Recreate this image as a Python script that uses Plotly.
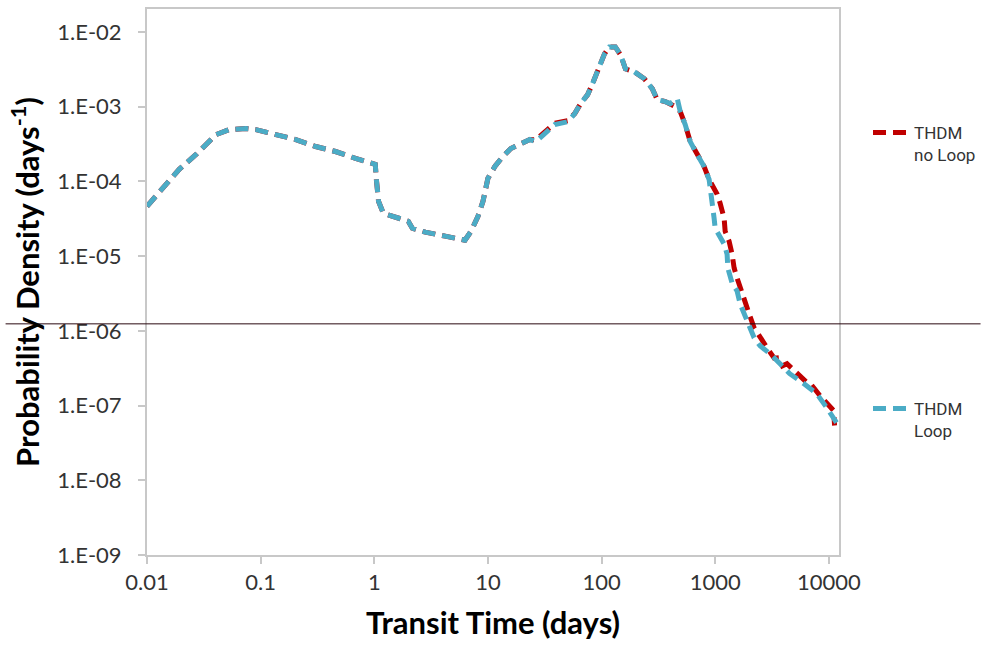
import plotly.graph_objects as go

# ---- data ----
loop_x = [0.01, 0.0136, 0.0192, 0.0270, 0.0405, 0.0526, 0.0741, 0.0908, 0.125, 0.204,
          0.305, 0.456, 0.683, 1.02, 1.04, 1.09, 1.20, 1.63, 1.99, 2.16,
          2.81, 4.20, 5.25, 6.28, 7.10, 8.17, 9.04, 10.0, 11.5, 13.5,
          15.9, 19.5, 23.4, 26.4, 31.6, 38.7, 50.4, 58.0, 65.4, 75.4,
          83.2, 95.9, 106, 117, 132, 147, 162, 194, 238, 279,
          309, 363, 402, 463, 492, 544, 602, 693, 798, 883,
          939, 977, 998, 1081, 1197, 1271, 1290, 1406, 1556, 1656,
          1795, 1986, 2197, 2479, 3034, 3715, 4518, 5998, 7797, 9550,
          11000, 11670]
loop_y = [4.64e-5, 8.07e-5, 1.45e-4, 2.29e-4, 4.23e-4, 4.93e-4, 5.09e-4, 4.93e-4, 4.36e-4, 3.63e-4,
          2.93e-4, 2.51e-4, 2.03e-4, 1.69e-4, 1.10e-4, 5.41e-5, 3.74e-5, 3.21e-5, 2.93e-5, 2.36e-5,
          2.09e-5, 1.85e-5, 1.69e-5, 1.63e-5, 2.15e-5, 3.41e-5, 5.41e-5, 1.10e-4, 1.58e-4, 2.15e-4,
          2.75e-4, 3.21e-4, 3.63e-4, 3.41e-4, 4.36e-4, 5.75e-4, 6.31e-4, 8.07e-4, 1.10e-3, 1.45e-3,
          2.03e-3, 3.63e-3, 5.09e-3, 6.31e-3, 6.31e-3, 4.93e-3, 3.21e-3, 2.93e-3, 2.36e-3, 1.74e-3,
          1.24e-3, 1.17e-3, 1.10e-3, 1.28e-3, 8.58e-4, 5.75e-4, 3.41e-4, 2.29e-4, 1.58e-4, 1.06e-4,
          5.75e-5, 3.21e-5, 2.36e-5, 1.96e-5, 1.45e-5, 1.06e-5, 6.92e-6, 4.36e-6, 3.41e-6, 2.29e-6,
          1.69e-6, 1.17e-6, 8.07e-7, 6.31e-7, 4.93e-7, 3.63e-7, 2.67e-7, 1.97e-7, 1.45e-7, 9.4e-8,
          6.9e-8, 5.9e-8]

noloop_x = [0.01, 0.0136, 0.0192, 0.0270, 0.0405, 0.0526, 0.0741, 0.0908, 0.125, 0.204,
            0.305, 0.456, 0.683, 1.02, 1.04, 1.09, 1.20, 1.63, 1.99, 2.16,
            2.81, 4.20, 5.25, 6.28, 7.10, 8.17, 9.04, 10.0, 11.5, 13.5,
            15.9, 19.5, 23.4, 26.4, 31.6, 38.7, 50.4, 58.0, 65.4, 75.4,
            83.2, 95.9, 106, 117, 132, 147, 162, 194, 238, 279,
            309, 363, 402, 447, 492, 544, 602, 693, 798, 883,
            1040, 1104, 1197, 1222, 1324, 1406, 1466, 1556, 1722, 1832,
            1986, 2197, 2479, 2856, 3300, 3640, 3900, 4277, 5000, 6412,
            7000, 8337, 10990, 11220]
noloop_y = [4.64e-5, 8.07e-5, 1.45e-4, 2.29e-4, 4.23e-4, 4.93e-4, 5.09e-4, 4.93e-4, 4.36e-4, 3.63e-4,
            2.93e-4, 2.51e-4, 2.03e-4, 1.69e-4, 1.10e-4, 5.41e-5, 3.74e-5, 3.21e-5, 2.93e-5, 2.36e-5,
            2.09e-5, 1.85e-5, 1.69e-5, 1.63e-5, 2.15e-5, 3.41e-5, 5.41e-5, 1.10e-4, 1.58e-4, 2.15e-4,
            2.75e-4, 3.21e-4, 3.63e-4, 3.60e-4, 4.60e-4, 6.00e-4, 6.50e-4, 8.07e-4, 1.10e-3, 1.45e-3,
            2.03e-3, 3.63e-3, 5.09e-3, 6.31e-3, 6.31e-3, 4.93e-3, 3.21e-3, 2.93e-3, 2.36e-3, 1.74e-3,
            1.24e-3, 1.17e-3, 1.10e-3, 1.00e-3, 8.58e-4, 5.75e-4, 3.41e-4, 2.29e-4, 1.58e-4, 1.06e-4,
            6.71e-5, 5.09e-5, 3.21e-5, 2.15e-5, 1.58e-5, 1.06e-5, 6.92e-6, 5.09e-6, 3.11e-6, 2.29e-6,
            1.69e-6, 1.10e-6, 8.07e-7, 5.93e-7, 4.30e-7, 4.36e-7, 3.40e-7, 3.63e-7, 2.90e-7, 2.03e-7,
            1.90e-7, 1.36e-7, 8.58e-8, 5.41e-8]

x_tickvals = [0.01, 0.1, 1, 10, 100, 1000, 10000]
x_ticktext = ["0.01", "0.1", "1", "10", "100", "1000", "10000"]
y_tickvals = [1e-9, 1e-8, 1e-7, 1e-6, 1e-5, 1e-4, 1e-3, 1e-2]
y_ticktext = ["1.E-09", "1.E-08", "1.E-07", "1.E-06", "1.E-05", "1.E-04", "1.E-03", "1.E-02"]

RED = "#C00000"
BLUE = "#4BACC6"
AXIS = "#C8C8C8"
TXT = "#333333"
FONT = "Lato"

fig = go.Figure()
fig.add_trace(go.Scatter(x=noloop_x, y=noloop_y, mode="lines", name="THDM<br>no Loop",
                         line=dict(color=RED, width=5, dash="13px,7px"), legend="legend",
                         showlegend=True))
fig.add_trace(go.Scatter(x=loop_x, y=loop_y, mode="lines", name="THDM<br>Loop",
                         line=dict(color=BLUE, width=5, dash="13px,7px"), legend="legend2",
                         showlegend=True))

legend_common = dict(xref="container", yref="container", xanchor="left", yanchor="top",
                     valign="top", itemwidth=36, bgcolor="rgba(0,0,0,0)",
                     font=dict(size=17, color=TXT, family="Roboto"))

fig.update_layout(
    width=984, height=647,
    showlegend=True,
    margin=dict(l=147, r=142, t=7, b=92),
    paper_bgcolor="white", plot_bgcolor="white",
    font=dict(family=FONT, color=TXT, size=22),
    legend=dict(x=868/984, y=1-115/647, **legend_common),
    legend2=dict(x=868/984, y=1-391/647, **legend_common),
    shapes=[dict(type="line", xref="paper", yref="paper",
                 x0=(5-147)/695, x1=(984-147)/695, y0=(555-323)/548, y1=(555-323)/548,
                 line=dict(color="#2A0810", width=1))],
)

fig.update_xaxes(type="log", range=[-2, 4.09], tickvals=x_tickvals, ticktext=x_ticktext,
                 showgrid=False, zeroline=False, showline=True, mirror=True,
                 linecolor=AXIS, linewidth=2, ticks="outside", ticklen=7, tickcolor=AXIS,
                 tickwidth=1.5, tickfont=dict(size=22, color=TXT, family=FONT),
                 title=dict(text="<b>Transit Time (days)</b>", standoff=18,
                            font=dict(size=31, color="black", family=FONT)))
fig.update_yaxes(type="log", range=[-9, -1.693], tickvals=y_tickvals, ticktext=y_ticktext,
                 showgrid=False, zeroline=False, showline=True, mirror=True,
                 linecolor=AXIS, linewidth=2, ticks="outside", ticklen=7, tickcolor=AXIS,
                 tickwidth=1.5, ticklabelstandoff=12, tickfont=dict(size=22, color=TXT, family=FONT),
                 title=dict(text="<b>Probability Density (days<sup>-1</sup>)</b>", standoff=8,
                            font=dict(size=31, color="black", family=FONT)))

fig.write_html("out.html")
